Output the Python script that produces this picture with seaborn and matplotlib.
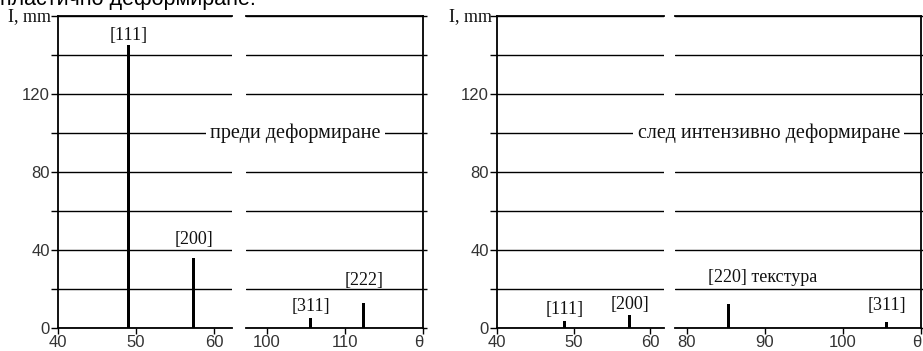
import numpy as np
import matplotlib
matplotlib.use('Agg')
import matplotlib.pyplot as plt
import seaborn as sns

sns.set_style('white')
plt.rcParams['font.family'] = ['Liberation Sans', 'DejaVu Sans']

# данни: преди деформиране
before_theta = [49.0, 57.4, 105.6, 112.4]
before_I = [145, 36, 5, 13]
before_labels = ['[111]', '[200]', '[311]', '[222]']

# данни: след интензивно деформиране
after_theta = [48.8, 57.3, 85.3, 105.6]
after_I = [3.5, 6.5, 12.5, 3]
after_labels = ['[111]', '[200]', '[220] текстура', '[311]']

y_ticks = list(range(0, 161, 20))
y_labels = ['0', '', '40', '', '80', '', '120', '', '']

W, H = 923, 351
fig = plt.figure(figsize=(W / 100, H / 100), dpi=100)

def add_ax(x0, x1):
    return fig.add_axes([x0 / W, (H - 328) / H, (x1 - x0) / W, 312 / H])

def style(ax, first, xlim, xticks, xlabels):
    ax.set_xlim(*xlim)
    ax.set_ylim(0, 160)
    ax.set_yticks(y_ticks)
    ax.set_xticks(xticks)
    ax.set_xticklabels(xlabels)
    ax.yaxis.grid(True, color='black', lw=1.0)
    ax.xaxis.grid(False)
    ax.set_axisbelow(True)
    for s in ax.spines.values():
        s.set_color('black')
        s.set_linewidth(1.3)
    ax.tick_params(axis='x', direction='out', length=4, width=1, pad=1,
                   labelsize=12, labelcolor='#333', color='black', bottom=True)
    if first:
        ax.spines['right'].set_visible(False)
        ax.set_yticklabels(y_labels)
        ax.tick_params(axis='y', direction='out', length=5, width=1, pad=1,
                       labelsize=12, labelcolor='#333', color='black', left=True)
    else:
        ax.spines['left'].set_visible(False)
        ax.tick_params(axis='y', left=False, labelleft=False, right=True,
                       direction='out', length=3, width=1, color='black')
    for lab in ax.get_xticklabels():
        if lab.get_text() == 'θ':
            lab.set_ha('right')

serif = ['Liberation Serif', 'DejaVu Serif']

def panel(segs, theta, inten, labels, offsets, title, title_x):
    axes = []
    for (x0, x1), xlim, xt, xl in segs:
        ax = add_ax(x0, x1)
        style(ax, len(axes) == 0, xlim, xt, xl)
        ax.bar(theta, inten, width=0.38, color='black', linewidth=0)
        axes.append(ax)
    for t, v, lab, (dx, dy, ha) in zip(theta, inten, labels, offsets):
        ax = axes[0] if t < axes[0].get_xlim()[1] else axes[1]
        ax.text(t + dx, v + dy, lab, ha=ha, va='bottom', fontsize=13,
                family=serif, color='#111', clip_on=False)
    axes[1].text(title_x, 100, title, ha='center', va='center', fontsize=14.5,
                 family=serif, color='#111', clip_on=False, zorder=5,
                 bbox=dict(facecolor='white', edgecolor='none', pad=3))
    return axes

panel([((58, 232), (40, 62.3), [40, 50, 60], ['40', '50', '60']),
       ((246, 423), (97.3, 120), [100, 110, 120], ['100', '110', 'θ'])],
      before_theta, before_I, before_labels,
      [(0, 0.5, 'center'), (0, 5.0, 'center'), (0, 1.5, 'center'), (0, 7.0, 'center')],
      'преди деформиране', 103.6)

panel([((497, 664), (40, 61.8), [40, 50, 60], ['40', '50', '60']),
       ((675, 921), (78.5, 110), [80, 90, 100, 110], ['80', '90', '100', 'θ'])],
      after_theta, after_I, after_labels,
      [(0, 1.5, 'center'), (0, 1.2, 'center'), (-2.6, 9.0, 'left'), (0, 4.2, 'center')],
      'след интензивно деформиране', 90.5)

fig.text(8 / W, 1 - 17 / H, 'I, mm', ha='left', va='center', fontsize=13,
         family=serif, color='#111')
fig.text(449 / W, 1 - 17 / H, 'I, mm', ha='left', va='center', fontsize=13,
         family=serif, color='#111')
fig.text(0, 1 - 5 / H, 'пластично деформиране.', ha='left', va='baseline',
         fontsize=15.5, color='black')

fig.savefig('out.png', dpi=100)
